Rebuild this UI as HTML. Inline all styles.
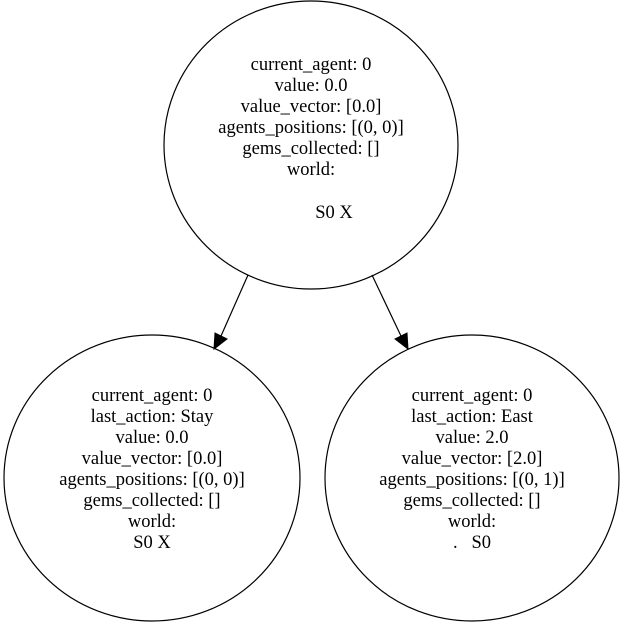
<!DOCTYPE html>
<html><head><meta charset="utf-8"><style>
html,body{margin:0;padding:0;background:#fff;}
svg{display:block;}
text{font-family:"Liberation Serif","Times New Roman",serif;font-size:18.5px;fill:#000;}
</style></head><body>
<svg width="621" height="624" viewBox="0 0 621 624" xmlns="http://www.w3.org/2000/svg">
<rect width="621" height="624" fill="#fff"/>
<ellipse cx="311" cy="145" rx="147" ry="144" fill="none" stroke="#000" stroke-width="1.2"/>
<ellipse cx="152" cy="478" rx="148" ry="143" fill="none" stroke="#000" stroke-width="1.2"/>
<ellipse cx="472" cy="478" rx="147" ry="143" fill="none" stroke="#000" stroke-width="1.2"/>
<line x1="248" y1="275" x2="221" y2="336" stroke="#000" stroke-width="1.2"/>
<polygon points="214,349 215,333 227,339" fill="#000" stroke="#000"/>
<line x1="372" y1="275" x2="401" y2="336" stroke="#000" stroke-width="1.2"/>
<polygon points="408,349 395,339 407,333" fill="#000" stroke="#000"/>
<g text-anchor="middle">
<text x="311" y="70">current_agent: 0</text>
<text x="311" y="91">value: 0.0</text>
<text x="311" y="112">value_vector: [0.0]</text>
<text x="311" y="133">agents_positions: [(0, 0)]</text>
<text x="311" y="154">gems_collected: []</text>
<text x="311" y="175">world:</text>
<text x="334" y="218">S0 X</text>

<text x="152" y="401">current_agent: 0</text>
<text x="152" y="422">last_action: Stay</text>
<text x="152" y="443">value: 0.0</text>
<text x="152" y="464">value_vector: [0.0]</text>
<text x="152" y="485">agents_positions: [(0, 0)]</text>
<text x="152" y="506">gems_collected: []</text>
<text x="152" y="527">world:</text>
<text x="152" y="548">S0 X</text>

<text x="472" y="401">current_agent: 0</text>
<text x="472" y="422">last_action: East</text>
<text x="472" y="443">value: 2.0</text>
<text x="472" y="464">value_vector: [2.0]</text>
<text x="472" y="485">agents_positions: [(0, 1)]</text>
<text x="472" y="506">gems_collected: []</text>
<text x="472" y="527">world:</text>
<text x="472" y="548" xml:space="preserve">.   S0</text>
</g>
</svg>
</body></html>
